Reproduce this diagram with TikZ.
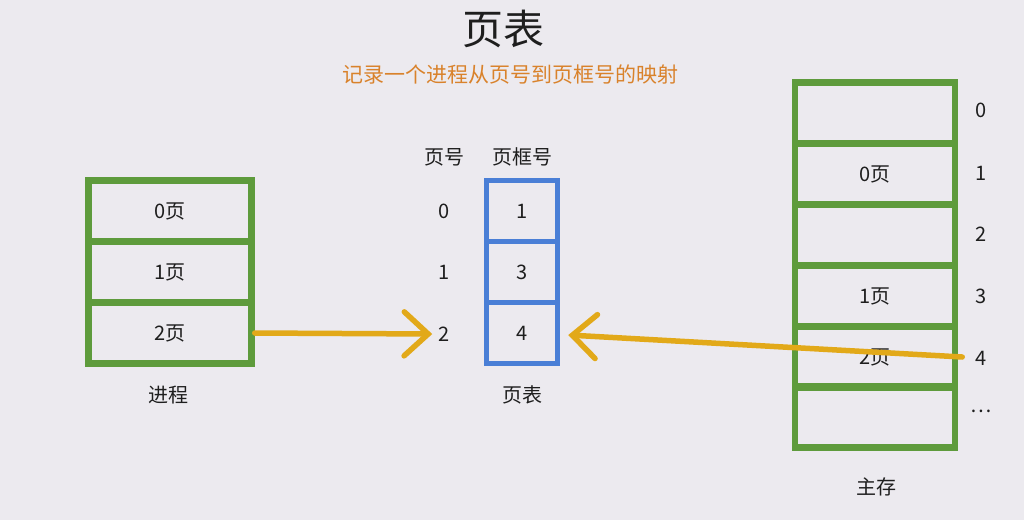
\documentclass[tikz,border=0pt]{standalone}
\usepackage{fontspec}
\setmainfont{Noto Sans CJK SC}
\usetikzlibrary{arrows.meta}
\definecolor{bg}{HTML}{ECEAEF}
\definecolor{grn}{HTML}{5E9B3C}
\definecolor{blu}{HTML}{4A7FD6}
\definecolor{ylw}{HTML}{E2A919}
\definecolor{org}{HTML}{D9822B}
\definecolor{txt}{HTML}{1E1E1E}
\tikzset{
  gcell/.style={draw=grn, line width=6.5pt, rectangle, inner sep=0pt, minimum width=160pt, minimum height=61pt, font=\fontsize{20}{24}\selectfont, text=txt},
  bcell/.style={draw=blu, line width=5.5pt, rectangle, inner sep=0pt, minimum width=71pt, minimum height=61pt, font=\fontsize{20}{24}\selectfont, text=txt},
  lbl/.style={font=\fontsize{20}{24}\selectfont, text=txt, inner sep=0pt},
  yarrow/.style={draw=ylw, line width=5.5pt, line cap=round, -{Straight Barb[length=24pt,width=44pt,line cap=round]}}
}
\begin{document}
\begin{tikzpicture}[x=1pt,y=-1pt]
\fill[bg] (0,0) rectangle (1024,520);
\useasboundingbox (0,0) rectangle (1024,520);
% title
\node[font=\fontsize{41}{46}\selectfont, text=txt] (title) at (503,29) {页表};
\node[font=\fontsize{21}{24}\selectfont, text=org] (sub) at (510,75) {记录一个进程从页号到页框号的映射};
% process
\node[gcell, minimum width=163pt] (p0) at (170,211) {0页};
\node[gcell, minimum width=163pt] (p1) at (170,272) {1页};
\node[gcell, minimum width=163pt] (p2) at (170,333) {2页};
\node[lbl] (plbl) at (168,395) {进程};
% page table
\node[lbl] (hno) at (444,157) {页号};
\node[lbl] (hfr) at (522,157) {页框号};
\node[bcell] (t0) at (522,211) {1};
\node[bcell] (t1) at (522,272) {3};
\node[bcell] (t2) at (522,333) {4};
\node[lbl] (n0) at (444,211) {0};
\node[lbl] (n1) at (444,272) {1};
\node[lbl] (n2) at (444,334) {2};
\node[lbl] (tlbl) at (522,395) {页表};
% memory
\node[gcell] (m0) at (875,113) {};
\node[gcell] (m1) at (875,174) {0页};
\node[gcell] (m2) at (875,235) {};
\node[gcell] (m3) at (875,296) {1页};
\node[gcell] (m4) at (875,357) {2页};
\node[gcell] (m5) at (875,417) {};
\node[lbl] (f0) at (981,110) {0};
\node[lbl] (f1) at (981,173) {1};
\node[lbl] (f2) at (981,234) {2};
\node[lbl] (f3) at (981,296) {3};
\node[lbl] (f4) at (981,358) {4};
\node[lbl] (f5) at (981,411) {\dots};
\node[lbl] (mlbl) at (876,487) {主存};
% arrows
\draw[yarrow] (p2.east) -- ([xshift=-6pt]n2.west);
\draw[yarrow] ([xshift=4pt]m4.east) -- ([xshift=8pt,yshift=-2pt]t2.east);
\end{tikzpicture}
\end{document}
